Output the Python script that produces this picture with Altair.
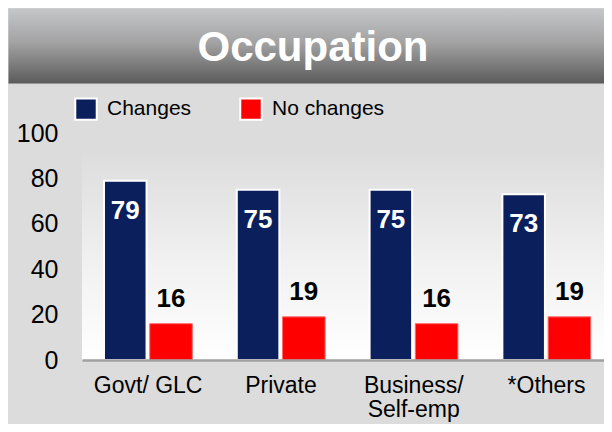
import altair as alt
import pandas as pd

categories = ["Govt/ GLC", "Private", "Business/ Self-emp", "*Others"]
changes = [79, 75, 75, 73]
no_changes = [16, 19, 16, 19]
series = ["Changes", "No changes"]
colors = ["#0b1f5c", "#ff0000"]
y_ticks = [0, 20, 40, 60, 80, 100]
title_text = "Occupation"

FONT = "Liberation Sans, Arial, sans-serif"
W, H = 522, 227

rows = []
for c, a, b in zip(categories, changes, no_changes):
    rows.append({"category": c, "series": series[0], "value": a})
    rows.append({"category": c, "series": series[1], "value": b})
df = pd.DataFrame(rows)
one = pd.DataFrame({"k": [0]})

x_enc = alt.X(
    "category:N", sort=categories, title=None,
    scale=alt.Scale(paddingInner=0.335, paddingOuter=0.133, align=0.623),
    axis=alt.Axis(
        labelAngle=0, ticks=False, domain=True, domainColor="#a0a0a0", domainWidth=2.5,
        labelFontSize=23, labelFont=FONT, labelColor="black", labelPadding=14,
        labelLineHeight=24, grid=False, zindex=1,
        labelExpr="datum.label == 'Business/ Self-emp' ? ['Business/', 'Self-emp'] : datum.label",
    ),
)
xo_enc = alt.XOffset("series:N", sort=series, scale=alt.Scale(paddingInner=0.07, paddingOuter=0))
y_enc = alt.Y(
    "value:Q", title=None,
    scale=alt.Scale(domain=[0, 100], nice=False),
    axis=alt.Axis(values=y_ticks, grid=False, domain=False, ticks=False,
                  labelFontSize=25, labelFont=FONT, labelColor="black", labelPadding=24),
)
color_enc = alt.Color(
    "series:N", sort=series,
    scale=alt.Scale(domain=series, range=colors),
    legend=alt.Legend(
        title=None, orient="none", legendX=-8, legendY=-36, direction="horizontal",
        symbolType="square", symbolSize=460, symbolStrokeColor="white", symbolStrokeWidth=2,
        symbolOpacity=1, labelFontSize=21, labelFont=FONT, labelColor="black",
        labelOffset=9, columnPadding=44, padding=0,
    ),
)

banner = alt.Chart(one).mark_rect(
    fill=alt.LinearGradient(
        gradient="linear", x1=0, x2=0, y1=0, y2=1,
        stops=[alt.GradientStop(offset=0, color="#c6c7c9"),
               alt.GradientStop(offset=0.45, color="#a3a3a4"),
               alt.GradientStop(offset=1, color="#5a5a5a")],
    ),
    stroke="#d6d6d6", strokeWidth=1,
).encode(x=alt.value(-74), x2=alt.value(W + 10), y=alt.value(-125), y2=alt.value(-49))

title = alt.Chart(one).mark_text(
    text=title_text, color="white", fontSize=42, fontWeight="bold", font=FONT,
    baseline="middle", align="center",
).encode(x=alt.value(231), y=alt.value(-85))

plotbg = alt.Chart(one).mark_rect(
    fill=alt.LinearGradient(
        gradient="linear", x1=0, x2=0, y1=0, y2=1,
        stops=[alt.GradientStop(offset=0, color="#dcdcdc"),
               alt.GradientStop(offset=0.55, color="#f1f1f1"),
               alt.GradientStop(offset=1, color="#ffffff")],
    ),
).encode(x=alt.value(0), x2=alt.value(W), y=alt.value(15), y2=alt.value(H))

bars_a = alt.Chart(df).transform_filter(alt.datum.series == series[0]).mark_bar(
    stroke="white", strokeWidth=2
).encode(x=x_enc, xOffset=xo_enc, y=y_enc, color=color_enc)

bars_b = alt.Chart(df).transform_filter(alt.datum.series == series[1]).mark_bar(
    stroke="#ff6a6a", strokeWidth=1
).encode(x=x_enc, xOffset=xo_enc, y=y_enc, color=color_enc)

lab_in = alt.Chart(df).transform_filter(alt.datum.series == series[0]).mark_text(
    color="white", fontSize=26, fontWeight="bold", font=FONT, baseline="alphabetic", dy=38
).encode(x=x_enc, xOffset=xo_enc, y=y_enc, text="value:Q")

lab_out = alt.Chart(df).transform_filter(alt.datum.series == series[1]).mark_text(
    color="black", fontSize=26, fontWeight="bold", font=FONT, baseline="alphabetic", dy=-17
).encode(x=x_enc, xOffset=xo_enc, y=y_enc, text="value:Q")

chart = alt.layer(banner, title, plotbg, bars_a, bars_b, lab_in, lab_out).properties(
    width=W, height=H,
    autosize=alt.AutoSizeParams(type="none"),
    padding={"left": 74, "top": 125, "right": 0, "bottom": 64},
    background="#dcdcdc",
).configure_view(stroke=None)

chart.save("out.html", embed_options={"renderer": "svg", "actions": False})
